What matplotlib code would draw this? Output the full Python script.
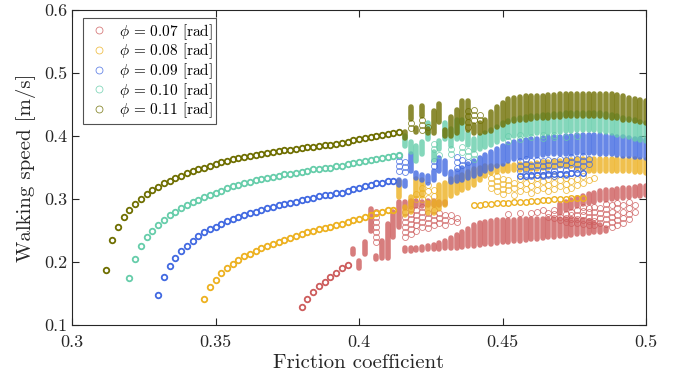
import numpy as np
import matplotlib

matplotlib.use("Agg")
import matplotlib.pyplot as plt
from matplotlib.lines import Line2D

plt.rcParams["font.family"] = "serif"
plt.rcParams["font.serif"] = ["cmr10"]
plt.rcParams["mathtext.fontset"] = "cm"
plt.rcParams["axes.formatter.use_mathtext"] = True

phi_labels = ["0.07", "0.08", "0.09", "0.10", "0.11"]
colors = ["#CD5C5C", "#EDB120", "#4169E1", "#66CDAA", "#6E6E00"]

# smooth single-solution branches
red_x = [0.380, 0.382, 0.384, 0.386, 0.388, 0.390, 0.392, 0.394, 0.396]
red_y = [0.129, 0.142, 0.153, 0.162, 0.169, 0.176, 0.183, 0.190, 0.196]

yellow_x = [0.346, 0.348, 0.350, 0.352, 0.354, 0.356, 0.358, 0.360, 0.362, 0.364,
            0.366, 0.368, 0.370, 0.372, 0.374, 0.376, 0.378, 0.380, 0.382, 0.384,
            0.386, 0.388, 0.390, 0.392, 0.394, 0.396, 0.398, 0.400, 0.402, 0.404,
            0.406, 0.408, 0.410, 0.412]
yellow_y = [0.142, 0.160, 0.172, 0.182, 0.190, 0.197, 0.203, 0.209, 0.213, 0.218,
            0.222, 0.226, 0.229, 0.232, 0.235, 0.238, 0.241, 0.244, 0.247, 0.249,
            0.252, 0.254, 0.256, 0.258, 0.261, 0.263, 0.266, 0.269, 0.272, 0.275,
            0.277, 0.279, 0.282, 0.283]

blue_x = [0.330, 0.332, 0.334, 0.336, 0.338, 0.340, 0.342, 0.344, 0.346, 0.348,
          0.350, 0.352, 0.354, 0.356, 0.358, 0.360, 0.362, 0.364, 0.366, 0.368,
          0.370, 0.372, 0.374, 0.376, 0.378, 0.380, 0.382, 0.384, 0.386, 0.388,
          0.390, 0.392, 0.394, 0.396, 0.398, 0.400, 0.402, 0.404, 0.406, 0.408,
          0.410, 0.412]
blue_y = [0.147, 0.176, 0.194, 0.207, 0.217, 0.226, 0.234, 0.241, 0.247, 0.252,
          0.256, 0.261, 0.265, 0.268, 0.271, 0.275, 0.277, 0.280, 0.283, 0.285,
          0.287, 0.290, 0.292, 0.294, 0.296, 0.298, 0.300, 0.302, 0.304, 0.306,
          0.307, 0.309, 0.310, 0.313, 0.316, 0.318, 0.320, 0.323, 0.325, 0.326,
          0.328, 0.329]

teal_x = [0.320, 0.322, 0.324, 0.326, 0.328, 0.330, 0.332, 0.334, 0.336, 0.338,
          0.340, 0.342, 0.344, 0.346, 0.348, 0.350, 0.352, 0.354, 0.356, 0.358,
          0.360, 0.362, 0.364, 0.366, 0.368, 0.370, 0.372, 0.374, 0.376, 0.378,
          0.380, 0.382, 0.384, 0.386, 0.388, 0.390, 0.392, 0.394, 0.396, 0.398,
          0.400, 0.402, 0.404, 0.406, 0.408, 0.410, 0.412, 0.414]
teal_y = [0.174, 0.205, 0.225, 0.239, 0.250, 0.259, 0.267, 0.274, 0.280, 0.286,
          0.291, 0.295, 0.299, 0.303, 0.306, 0.309, 0.313, 0.317, 0.320, 0.323,
          0.325, 0.327, 0.330, 0.332, 0.333, 0.335, 0.337, 0.339, 0.340, 0.342,
          0.343, 0.345, 0.347, 0.348, 0.349, 0.350, 0.352, 0.353, 0.355, 0.357,
          0.358, 0.360, 0.362, 0.363, 0.365, 0.366, 0.368, 0.370]

olive_x = [0.312, 0.314, 0.316, 0.318, 0.320, 0.322, 0.324, 0.326, 0.328, 0.330,
           0.332, 0.334, 0.336, 0.338, 0.340, 0.342, 0.344, 0.346, 0.348, 0.350,
           0.352, 0.354, 0.356, 0.358, 0.360, 0.362, 0.364, 0.366, 0.368, 0.370,
           0.372, 0.374, 0.376, 0.378, 0.380, 0.382, 0.384, 0.386, 0.388, 0.390,
           0.392, 0.394, 0.396, 0.398, 0.400, 0.402, 0.404, 0.406, 0.408, 0.410,
           0.412, 0.414]
olive_y = [0.188, 0.235, 0.256, 0.271, 0.283, 0.292, 0.300, 0.308, 0.314, 0.319,
           0.325, 0.329, 0.333, 0.337, 0.341, 0.344, 0.347, 0.350, 0.352, 0.355,
           0.358, 0.361, 0.363, 0.365, 0.367, 0.368, 0.370, 0.372, 0.373, 0.375,
           0.376, 0.377, 0.378, 0.380, 0.381, 0.382, 0.383, 0.384, 0.385, 0.386,
           0.388, 0.389, 0.390, 0.393, 0.395, 0.397, 0.399, 0.400, 0.401, 0.403,
           0.405, 0.406]

# dense multi-solution columns: (friction, lowest speed, highest speed)
red_band = [
    (0.398, 0.213, 0.221), (0.400, 0.191, 0.202), (0.402, 0.212, 0.232),
    (0.404, 0.249, 0.284), (0.406, 0.204, 0.210), (0.408, 0.207, 0.233),
    (0.410, 0.207, 0.260), (0.412, 0.239, 0.280), (0.414, 0.256, 0.295),
    (0.416, 0.286, 0.296), (0.418, 0.288, 0.297), (0.420, 0.289, 0.297),
    (0.422, 0.289, 0.296), (0.424, 0.290, 0.297), (0.426, 0.291, 0.297),
    (0.428, 0.291, 0.296), (0.430, 0.292, 0.296),
    (0.416, 0.218, 0.222), (0.418, 0.218, 0.222), (0.420, 0.219, 0.223),
    (0.422, 0.219, 0.224), (0.424, 0.220, 0.225), (0.426, 0.220, 0.227),
    (0.428, 0.221, 0.230), (0.430, 0.222, 0.234), (0.432, 0.222, 0.238),
    (0.434, 0.223, 0.243), (0.436, 0.224, 0.248), (0.438, 0.225, 0.253),
    (0.440, 0.226, 0.258), (0.442, 0.227, 0.262), (0.444, 0.228, 0.264),
    (0.446, 0.229, 0.265), (0.448, 0.230, 0.266), (0.450, 0.231, 0.266),
    (0.452, 0.232, 0.267), (0.454, 0.233, 0.267), (0.456, 0.234, 0.268),
    (0.458, 0.235, 0.268), (0.460, 0.236, 0.268), (0.462, 0.237, 0.268),
    (0.464, 0.238, 0.268), (0.466, 0.239, 0.268), (0.468, 0.240, 0.268),
    (0.470, 0.241, 0.268), (0.472, 0.242, 0.268), (0.474, 0.243, 0.268),
    (0.476, 0.244, 0.267), (0.478, 0.245, 0.266), (0.480, 0.246, 0.265),
    (0.482, 0.247, 0.262), (0.484, 0.248, 0.258), (0.486, 0.249, 0.254),
    (0.470, 0.278, 0.292), (0.472, 0.282, 0.296), (0.474, 0.286, 0.299),
    (0.476, 0.289, 0.302), (0.478, 0.292, 0.305), (0.480, 0.294, 0.308),
    (0.482, 0.296, 0.310), (0.484, 0.298, 0.312), (0.486, 0.299, 0.314),
    (0.488, 0.300, 0.315), (0.490, 0.301, 0.316), (0.492, 0.302, 0.317),
    (0.494, 0.303, 0.318), (0.496, 0.304, 0.319), (0.498, 0.305, 0.320),
    (0.500, 0.306, 0.321),
]

yellow_band = [
    (0.414, 0.303, 0.328), (0.416, 0.275, 0.288), (0.418, 0.280, 0.303),
    (0.420, 0.305, 0.332), (0.422, 0.305, 0.330), (0.424, 0.277, 0.293),
    (0.426, 0.278, 0.295), (0.428, 0.284, 0.322), (0.430, 0.290, 0.325),
    (0.432, 0.305, 0.332), (0.434, 0.310, 0.335), (0.436, 0.315, 0.338),
    (0.438, 0.318, 0.343), (0.440, 0.322, 0.347), (0.442, 0.330, 0.350),
    (0.444, 0.336, 0.352), (0.446, 0.342, 0.352), (0.448, 0.343, 0.353),
    (0.450, 0.344, 0.353), (0.452, 0.345, 0.354), (0.454, 0.346, 0.354),
    (0.456, 0.346, 0.355), (0.458, 0.347, 0.355), (0.460, 0.347, 0.356),
    (0.462, 0.348, 0.357), (0.464, 0.349, 0.358), (0.466, 0.350, 0.359),
    (0.468, 0.351, 0.360), (0.470, 0.352, 0.361), (0.472, 0.353, 0.362),
    (0.474, 0.352, 0.362), (0.476, 0.350, 0.363), (0.478, 0.347, 0.363),
    (0.480, 0.345, 0.364), (0.482, 0.345, 0.364), (0.484, 0.345, 0.364),
    (0.486, 0.345, 0.364), (0.488, 0.345, 0.364), (0.490, 0.345, 0.364),
    (0.492, 0.344, 0.364), (0.494, 0.344, 0.363), (0.496, 0.343, 0.363),
    (0.498, 0.343, 0.362), (0.500, 0.342, 0.362),
]

blue_band = [
    (0.414, 0.322, 0.330), (0.416, 0.320, 0.328), (0.418, 0.345, 0.372),
    (0.420, 0.333, 0.342), (0.422, 0.330, 0.338), (0.424, 0.325, 0.336),
    (0.426, 0.330, 0.345), (0.428, 0.345, 0.365), (0.430, 0.340, 0.360),
    (0.432, 0.327, 0.343), (0.434, 0.328, 0.345), (0.436, 0.330, 0.350),
    (0.438, 0.333, 0.355), (0.440, 0.337, 0.360), (0.442, 0.340, 0.365),
    (0.444, 0.344, 0.370), (0.446, 0.348, 0.375), (0.448, 0.352, 0.380),
    (0.450, 0.356, 0.384), (0.452, 0.360, 0.387), (0.454, 0.363, 0.390),
    (0.456, 0.365, 0.392), (0.458, 0.367, 0.394), (0.460, 0.368, 0.395),
    (0.462, 0.369, 0.396), (0.464, 0.370, 0.397), (0.466, 0.371, 0.398),
    (0.468, 0.371, 0.399), (0.470, 0.372, 0.399), (0.472, 0.372, 0.400),
    (0.474, 0.372, 0.400), (0.476, 0.373, 0.401), (0.478, 0.373, 0.401),
    (0.480, 0.373, 0.401), (0.482, 0.373, 0.401), (0.484, 0.372, 0.401),
    (0.486, 0.372, 0.400), (0.488, 0.371, 0.400), (0.490, 0.370, 0.399),
    (0.492, 0.369, 0.398), (0.494, 0.368, 0.397), (0.496, 0.367, 0.396),
    (0.498, 0.366, 0.395), (0.500, 0.365, 0.394),
]

teal_band = [
    (0.416, 0.384, 0.400), (0.418, 0.375, 0.391), (0.420, 0.360, 0.384),
    (0.422, 0.372, 0.391), (0.424, 0.396, 0.420), (0.426, 0.362, 0.375),
    (0.428, 0.380, 0.392), (0.430, 0.395, 0.420), (0.432, 0.384, 0.411),
    (0.434, 0.395, 0.425), (0.436, 0.395, 0.425), (0.438, 0.385, 0.405),
    (0.440, 0.378, 0.395), (0.442, 0.380, 0.400), (0.444, 0.382, 0.405),
    (0.446, 0.385, 0.410), (0.448, 0.390, 0.415), (0.450, 0.395, 0.420),
    (0.452, 0.398, 0.424), (0.454, 0.400, 0.427), (0.456, 0.401, 0.429),
    (0.458, 0.402, 0.430), (0.460, 0.403, 0.431), (0.462, 0.404, 0.432),
    (0.464, 0.405, 0.433), (0.466, 0.405, 0.434), (0.468, 0.406, 0.435),
    (0.470, 0.407, 0.435), (0.472, 0.408, 0.436), (0.474, 0.408, 0.436),
    (0.476, 0.409, 0.437), (0.478, 0.409, 0.437), (0.480, 0.409, 0.437),
    (0.482, 0.409, 0.437), (0.484, 0.408, 0.436), (0.486, 0.407, 0.435),
    (0.488, 0.405, 0.433), (0.490, 0.402, 0.431), (0.492, 0.400, 0.429),
    (0.494, 0.398, 0.427), (0.496, 0.396, 0.425), (0.498, 0.394, 0.423),
    (0.500, 0.392, 0.421),
]

olive_band = [
    (0.416, 0.397, 0.406), (0.418, 0.427, 0.446), (0.420, 0.407, 0.413),
    (0.422, 0.431, 0.447), (0.424, 0.404, 0.411), (0.426, 0.405, 0.440),
    (0.428, 0.422, 0.451), (0.430, 0.400, 0.410), (0.432, 0.400, 0.430),
    (0.434, 0.405, 0.441), (0.436, 0.420, 0.455), (0.438, 0.410, 0.456),
    (0.440, 0.404, 0.418), (0.442, 0.404, 0.420), (0.444, 0.406, 0.425),
    (0.446, 0.408, 0.438), (0.448, 0.414, 0.446), (0.450, 0.418, 0.453),
    (0.452, 0.422, 0.458), (0.454, 0.424, 0.461), (0.456, 0.425, 0.462),
    (0.458, 0.426, 0.463), (0.460, 0.427, 0.463), (0.462, 0.428, 0.464),
    (0.464, 0.428, 0.464), (0.466, 0.429, 0.465), (0.468, 0.430, 0.465),
    (0.470, 0.430, 0.466), (0.472, 0.431, 0.466), (0.474, 0.431, 0.466),
    (0.476, 0.432, 0.467), (0.478, 0.432, 0.467), (0.480, 0.432, 0.467),
    (0.482, 0.432, 0.467), (0.484, 0.431, 0.467), (0.486, 0.430, 0.467),
    (0.488, 0.429, 0.466), (0.490, 0.428, 0.465), (0.492, 0.426, 0.463),
    (0.494, 0.425, 0.461), (0.496, 0.424, 0.459), (0.498, 0.423, 0.457),
    (0.500, 0.421, 0.455),
]

# isolated open circles: (friction, [speeds])
red_open = [
    (0.406, [0.232, 0.240, 0.248, 0.256, 0.264, 0.272, 0.280]),
    (0.416, [0.240, 0.248, 0.256, 0.264, 0.272, 0.280]),
    (0.418, [0.244, 0.252, 0.260, 0.268, 0.276, 0.284]),
    (0.420, [0.250, 0.258, 0.266, 0.274, 0.282]),
    (0.422, [0.256, 0.264, 0.272, 0.280, 0.288]),
    (0.424, [0.254, 0.262, 0.270, 0.278]),
    (0.426, [0.258, 0.266, 0.274, 0.282]),
    (0.428, [0.262, 0.270, 0.278]),
    (0.430, [0.258, 0.266, 0.274]),
    (0.432, [0.265, 0.275]),
    (0.434, [0.263, 0.270]),
    (0.452, [0.276]), (0.456, [0.277]), (0.460, [0.278]),
    (0.462, [0.280]), (0.464, [0.282]),
    (0.466, [0.272, 0.278]),
    (0.468, [0.270, 0.276, 0.282]),
    (0.470, [0.266, 0.272]),
    (0.472, [0.264, 0.270, 0.276]),
    (0.474, [0.262, 0.268, 0.274, 0.280]),
    (0.476, [0.262, 0.268, 0.275, 0.282]),
    (0.478, [0.260, 0.267, 0.274, 0.281, 0.288]),
    (0.480, [0.258, 0.265, 0.272, 0.279, 0.286]),
    (0.482, [0.258, 0.265, 0.272, 0.279, 0.287]),
    (0.484, [0.262, 0.270, 0.278, 0.286]),
    (0.486, [0.260, 0.268, 0.276, 0.284, 0.292]),
    (0.488, [0.256, 0.264, 0.272, 0.280, 0.290]),
    (0.490, [0.258, 0.266, 0.275, 0.285, 0.294]),
    (0.492, [0.262, 0.270, 0.280, 0.290]),
    (0.494, [0.268, 0.276, 0.285, 0.295]),
    (0.496, [0.280, 0.290]),
]

yellow_open = [
    (0.420, [0.300, 0.308]), (0.422, [0.300, 0.310, 0.318]),
    (0.424, [0.302, 0.312, 0.322]), (0.426, [0.305, 0.315]),
    (0.446, [0.318, 0.326, 0.334]), (0.448, [0.312, 0.320, 0.328, 0.336]),
    (0.450, [0.308, 0.316, 0.324, 0.332]), (0.452, [0.314, 0.322, 0.330]),
    (0.454, [0.306, 0.318, 0.326]), (0.456, [0.312, 0.322, 0.332]),
    (0.458, [0.316, 0.326, 0.336]), (0.460, [0.310, 0.320, 0.330]),
    (0.462, [0.314, 0.324, 0.334]), (0.464, [0.318, 0.328, 0.338]),
    (0.466, [0.312, 0.322, 0.332]), (0.468, [0.316, 0.326, 0.336]),
    (0.470, [0.320, 0.330]), (0.472, [0.314, 0.324, 0.334]),
    (0.474, [0.318, 0.328]), (0.476, [0.322, 0.332]),
    (0.478, [0.326, 0.336]), (0.480, [0.330]), (0.482, [0.334]),
]
# lower yellow branch
yellow_low_x = [0.440, 0.442, 0.444, 0.446, 0.448, 0.450, 0.452, 0.454, 0.456, 0.458,
                0.460, 0.462, 0.464, 0.466, 0.468, 0.470, 0.472, 0.474, 0.476, 0.478]
yellow_low_y = [0.291, 0.291, 0.292, 0.292, 0.293, 0.293, 0.294, 0.295, 0.295, 0.296,
                0.297, 0.297, 0.298, 0.299, 0.300, 0.300, 0.300, 0.301, 0.301, 0.302]

blue_open = [
    (0.414, [0.345, 0.353, 0.361, 0.369]), (0.416, [0.343, 0.351, 0.359]),
    (0.426, [0.352, 0.360]), (0.434, [0.350, 0.358, 0.366]),
    (0.436, [0.354, 0.362]), (0.438, [0.358]),
    (0.456, [0.345, 0.352, 0.360]), (0.458, [0.340, 0.348, 0.356, 0.364]),
    (0.460, [0.336, 0.344, 0.352, 0.360]), (0.462, [0.338, 0.346, 0.354, 0.362]),
    (0.464, [0.336, 0.344, 0.352, 0.360]), (0.466, [0.338, 0.346, 0.354, 0.362]),
    (0.468, [0.336, 0.344, 0.352, 0.360]), (0.470, [0.340, 0.348, 0.356, 0.364]),
    (0.472, [0.338, 0.346, 0.354, 0.362]), (0.474, [0.342, 0.350, 0.358, 0.366]),
    (0.476, [0.348, 0.356, 0.364]), (0.478, [0.352, 0.360, 0.368]),
    (0.480, [0.356, 0.364]),
]
blue_low_x = [0.456, 0.458, 0.460, 0.462, 0.464, 0.466, 0.468, 0.470, 0.472, 0.474, 0.476, 0.478]
blue_low_y = [0.337, 0.337, 0.338, 0.338, 0.338, 0.339, 0.339, 0.340, 0.340, 0.341, 0.341, 0.342]

teal_open = [
    (0.426, [0.380, 0.388]), (0.428, [0.370]), (0.432, [0.372, 0.380]),
    (0.436, [0.374, 0.382]), (0.438, [0.368, 0.376]), (0.440, [0.364, 0.372]),
    (0.452, [0.392, 0.400]), (0.456, [0.396, 0.402]), (0.460, [0.398]),
    (0.464, [0.397, 0.401]), (0.468, [0.398, 0.402]), (0.472, [0.398]),
    (0.476, [0.400]),
]

olive_open = [
    (0.418, [0.412, 0.420]), (0.422, [0.410, 0.418, 0.425]), (0.424, [0.415]),
    (0.438, [0.415, 0.423, 0.431, 0.439]), (0.440, [0.425, 0.433, 0.441]),
    (0.442, [0.426, 0.434]),
]

series = [
    (red_x, red_y, red_band, red_open, None, None),
    (yellow_x, yellow_y, yellow_band, yellow_open, yellow_low_x, yellow_low_y),
    (blue_x, blue_y, blue_band, blue_open, blue_low_x, blue_low_y),
    (teal_x, teal_y, teal_band, teal_open, None, None),
    (olive_x, olive_y, olive_band, olive_open, None, None),
]

fig = plt.figure(figsize=(6.73, 3.83), dpi=100)
ax = fig.add_axes([0.107, 0.1514, 0.853, 0.8225])

for (cx, cy, band, opened, lx, ly), color in zip(series, colors):
    bx = [b[0] for b in band]
    blo = [b[1] for b in band]
    bhi = [b[2] for b in band]
    ax.vlines(bx, blo, bhi, colors=color, linewidth=4.0, alpha=0.8, capstyle="round")

    ox, oy = [], []
    for x, ys in opened:
        ox += [x] * len(ys)
        oy += ys
    ax.plot(ox, oy, "o", ls="none", ms=4.3, mfc="none", mec=color, mew=0.6, alpha=0.8)

    if lx is not None:
        ax.plot(lx, ly, "o", ls="none", ms=4.0, mfc="none", mec=color, mew=1.0)

    ax.plot(cx, cy, "o", ls="none", ms=4.0, mfc="none", mec=color, mew=1.3)

ax.set_xlim(0.3, 0.5)
ax.set_ylim(0.1, 0.6)
ax.set_xticks([0.3, 0.35, 0.4, 0.45, 0.5])
ax.set_xticklabels(["0.3", "0.35", "0.4", "0.45", "0.5"])
ax.set_yticks([0.1, 0.2, 0.3, 0.4, 0.5, 0.6])
ax.set_yticklabels(["0.1", "0.2", "0.3", "0.4", "0.5", "0.6"])
ax.tick_params(direction="in", top=True, right=True, labelsize=13, length=5, width=0.8,
               colors="#262626")
ax.tick_params(axis="x", pad=7)
for s in ax.spines.values():
    s.set_color("#262626")
    s.set_linewidth(0.8)

ax.set_xlabel("Friction coefficient", fontsize=15, color="#262626", labelpad=3)
ax.set_ylabel("Walking speed [m/s]", fontsize=15, color="#262626", labelpad=6)

handles = [Line2D([], [], marker="o", ls="none", ms=5, mfc="none", mec=c, mew=0.6, alpha=0.8)
           for c in colors]
labels = [r"$\phi\,=\,%s$ [rad]" % p for p in phi_labels]
leg = ax.legend(handles, labels, loc="upper left", bbox_to_anchor=(0.0186, 0.974),
                borderaxespad=0, fontsize=11, frameon=True, fancybox=False,
                edgecolor="#262626", handletextpad=0.5, labelspacing=0.0,
                borderpad=0.25, handlelength=1.6)
leg.get_frame().set_linewidth(0.8)

fig.savefig("out.png", dpi=100)
